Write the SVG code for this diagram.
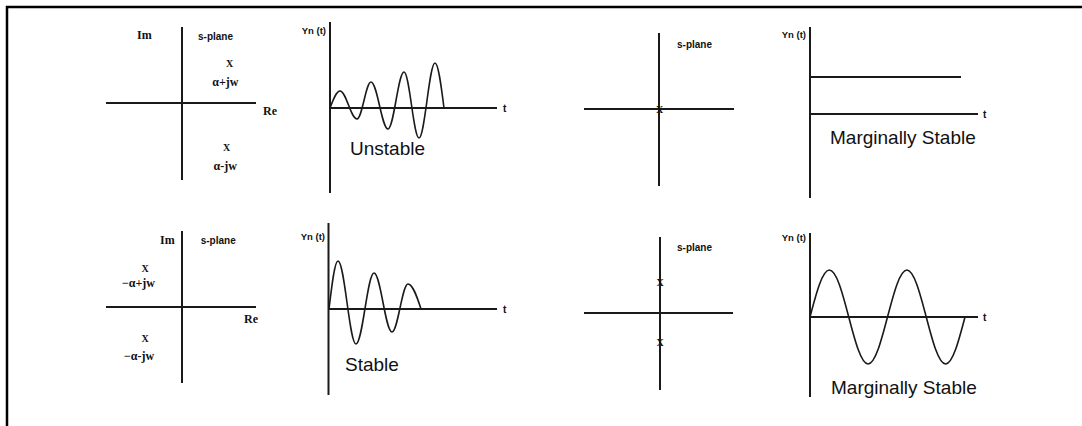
<svg xmlns="http://www.w3.org/2000/svg" width="1082" height="426" viewBox="0 0 1082 426">
<style>
.ax{stroke:#1a1a1a;stroke-width:2;fill:none}
.wv{stroke:#1a1a1a;stroke-width:1.6;fill:none}
.sm{font-family:"Liberation Sans",Arial,sans-serif;font-size:10px;font-weight:bold;fill:#111}
.yn{font-family:"Liberation Sans",Arial,sans-serif;font-size:9.5px;font-weight:bold;fill:#111;text-anchor:end}
.sf{font-family:"Liberation Serif","Times New Roman",serif;font-size:12px;font-weight:bold;fill:#111}
.xm{font-family:"Liberation Serif","Times New Roman",serif;font-size:10px;font-weight:bold;fill:#111;text-anchor:middle}
.big{font-family:"Liberation Sans",Arial,sans-serif;font-size:19px;fill:#111}
</style>
<rect width="1082" height="426" fill="#fff"/>
<path d="M7,426 V7 H1082" stroke="#000" stroke-width="2.5" fill="none"/>

<g id="splane-unstable">
<path class="ax" d="M182,27 V180 M106,103 H256"/>
<text class="sf" x="137" y="39">Im</text>
<text class="sm" x="198" y="39.5">s-plane</text>
<text class="xm" x="229.5" y="66.5">X</text>
<text class="sf" x="225.3" y="85.5" text-anchor="middle">α+jw</text>
<text class="sf" x="263" y="114.5">Re</text>
<text class="xm" x="226.5" y="151">X</text>
<text class="sf" x="225.3" y="170" text-anchor="middle">α-jw</text>
</g>

<g id="response-unstable">
<path class="ax" d="M330,22 V193 M330,108 H497"/>
<text class="yn" x="326" y="34">Yn (t)</text>
<text class="sm" x="503" y="112">t</text>
<path class="wv" d="M330,108 C333.3,99.3 336.4,91 340,91 C346.2,91 350.8,119 357,119 C362.1,119 365.9,82 371,82 C377.2,82 381.8,129 388,129 C393.8,129 398.2,72 404,72 C409.5,72 413.5,138 419,138 C424.8,138 429.2,63 435,63 C438.3,63 441.1,85 444,108"/>
<text class="big" x="350" y="155">Unstable</text>
</g>

<g id="splane-marginal-origin">
<path class="ax" d="M659,33 V186 M584,109 H734"/>
<text class="sm" x="677" y="47.5">s-plane</text>
<text class="xm" x="659.5" y="112.5">X</text>
</g>

<g id="response-step">
<path class="ax" d="M810,27 V198 M810,77 H961 M810,114 H978"/>
<text class="yn" x="806" y="38">Yn (t)</text>
<text class="sm" x="983" y="118">t</text>
<text class="big" x="830" y="144">Marginally Stable</text>
</g>

<g id="splane-stable">
<path class="ax" d="M182,231 V383 M106,307 H256"/>
<text class="sf" x="160" y="244">Im</text>
<text class="sm" x="200.7" y="244">s-plane</text>
<text class="xm" x="145" y="271.5">X</text>
<text class="sf" x="138.5" y="287" text-anchor="middle">−α+jw</text>
<text class="sf" x="244" y="323">Re</text>
<text class="xm" x="145" y="341.5">X</text>
<text class="sf" x="139" y="360" text-anchor="middle">−α-jw</text>
</g>

<g id="response-stable">
<path class="ax" d="M328.5,223 V395 M328.5,309 H497"/>
<text class="yn" x="325" y="240">Yn (t)</text>
<text class="sm" x="503" y="313">t</text>
<path class="wv" d="M329,309 C331.9,284.4 334.7,261 338,261 C344.6,261 349.4,344 356,344 C362.6,344 367.4,273 374,273 C380.6,273 385.4,332 392,332 C397.8,332 402.2,284 408,284 C412.7,284 416.8,296.2 421,309"/>
<text class="big" x="345" y="371">Stable</text>
</g>

<g id="splane-marginal-imag">
<path class="ax" d="M660,237 V390 M584,313 H733"/>
<text class="sm" x="677" y="251">s-plane</text>
<text class="xm" x="660" y="286">X</text>
<text class="xm" x="660" y="346">X</text>
</g>

<g id="response-sine">
<path class="ax" d="M810,233 V397 M810,317 H978"/>
<text class="yn" x="806" y="241">Yn (t)</text>
<text class="sm" x="983" y="321">t</text>
<path class="wv" d="M810,317 C816.3,292.9 822.4,270 829.4,270 C843.5,270 854,364 868.1,364 C882.2,364 892.8,270 906.9,270 C921,270 931.5,364 945.6,364 C952.6,364 958.7,341.1 965,317"/>
<text class="big" x="831" y="394">Marginally Stable</text>
</g>
</svg>
